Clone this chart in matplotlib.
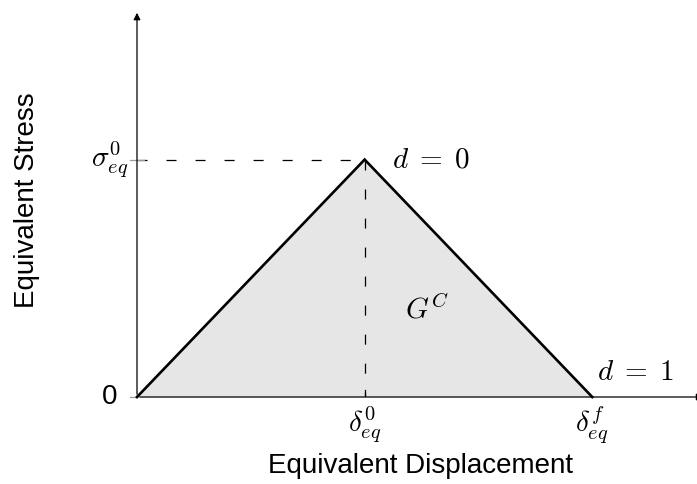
import matplotlib.pyplot as plt

plt.rcParams['mathtext.fontset'] = 'cm'
plt.rcParams['font.family'] = ['Liberation Sans', 'DejaVu Sans']
plt.rcParams['lines.scale_dashes'] = False

# bilinear traction-separation law (normalised units)
disp = [0.0, 1.0, 2.0]
stress = [0.0, 1.0, 0.0]
x_max = 2.46
y_max = 1.63

fig = plt.figure(figsize=(6.97, 4.84), dpi=100)
ax = fig.add_axes([137 / 697, 87 / 484, (697 - 137) / 697, (397 - 10) / 484])
ax.set_xlim(0, x_max)
ax.set_ylim(0, y_max)
ax.axis('off')

ax.fill_between(disp, stress, 0, color='#e6e6e6', lw=0)
ax.plot(disp, stress, color='black', lw=1.9, solid_joinstyle='miter', clip_on=False, zorder=4)

# dashed guides to the peak
dash = (0, (7.2, 13.7))
ax.plot([0, disp[1]], [stress[1], stress[1]], color='black', lw=0.9, ls=dash)
ax.plot([disp[1], disp[1]], [stress[1], 0], color='black', lw=0.9, ls=dash)

# axes with arrow heads
ax.annotate('', xy=(0, y_max), xytext=(0, 0),
            arrowprops=dict(arrowstyle='-|>', color='black', lw=0.9, mutation_scale=10), annotation_clip=False)
ax.annotate('', xy=(x_max + 0.04, 0), xytext=(0, 0),
            arrowprops=dict(arrowstyle='-|>', color='black', lw=0.9, mutation_scale=10), annotation_clip=False)

# small ticks
ax.plot([disp[1], disp[1]], [0, 0.03], color='black', lw=0.9)
ax.plot([-0.03, 0.03], [stress[1], stress[1]], color='#999999', lw=0.9, clip_on=False)
ax.plot([-0.03, 0.0], [0, 0], color='#999999', lw=0.9, clip_on=False)

def label(s, xy, dx, dy, ha, va, size=21):
    ax.annotate(s, xy=xy, xytext=(dx, dy), textcoords='offset points',
                ha=ha, va=va, fontsize=size, annotation_clip=False)

label('0', (0, 0), -14.4, 0, 'right', 'center', size=20)
label(r'$\sigma^0_{eq}$', (0, stress[1]), -6.5, 0, 'right', 'center')
label(r'$\delta^0_{eq}$', (disp[1], 0), 0, -5.8, 'center', 'top')
label(r'$\delta^f_{eq}$', (disp[2], 0), 0, -5.8, 'center', 'top')
label(r'$d\;=\;0$', (disp[1], stress[1]), 20, 0, 'left', 'center')
label(r'$d\;=\;1$', (disp[2], 0), 3.6, 18, 'left', 'center')
ax.text(1.275, 0.37, r'$G^C$', ha='center', va='center', fontsize=21)

fig.text(421 / 697, 1 - 466 / 484, 'Equivalent Displacement', ha='center', va='center', fontsize=20)
fig.text(27 / 697, 1 - 200 / 484, 'Equivalent Stress', ha='center', va='center', rotation=90, fontsize=20)

fig.savefig('out.png', dpi=100)
